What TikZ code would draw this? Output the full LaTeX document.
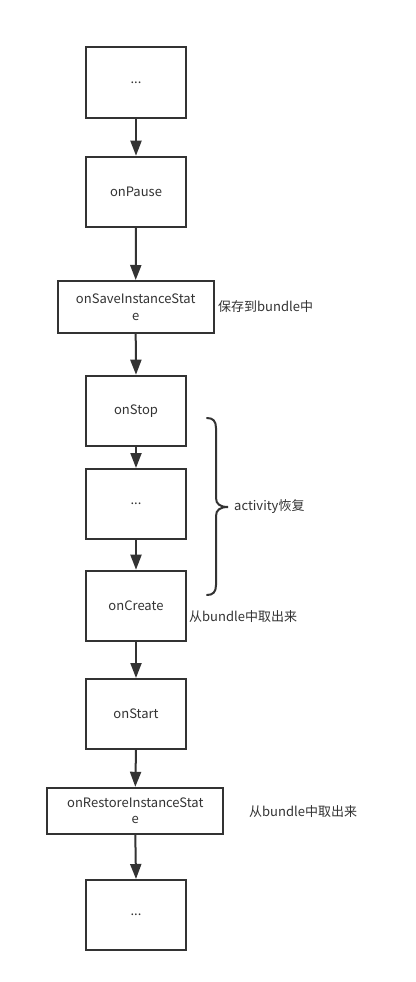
\documentclass[tikz,border=0pt]{standalone}
\usepackage{fontspec}
\setmainfont{Noto Sans CJK SC}
\usetikzlibrary{arrows.meta}
\definecolor{ink}{HTML}{333333}
\begin{document}
\begin{tikzpicture}[x=1pt,y=-1pt,
  stepbox/.style={draw=ink,line width=2pt,rectangle,inner sep=0pt,
    minimum width=100pt,minimum height=70pt,align=center,
    font=\fontsize{13}{16.5}\selectfont,text=ink},
  widebox/.style={stepbox,minimum height=52pt},
  flow/.style={draw=ink,line width=2pt,-{Triangle[length=15pt,width=11pt]}},
  note/.style={anchor=west,inner sep=0pt,font=\fontsize{13}{16}\selectfont,text=ink}]
\useasboundingbox (0,0) rectangle (415,982);
\fill[white] (0,0) rectangle (415,982);

% lifecycle steps
\node[stepbox] (s1) at (136,82.5) {...};
\node[stepbox] (s2) at (136,191.7) {onPause};
\node[widebox,minimum width=156pt] (s3) at (135.7,307) {onSaveInstanceStat\\e};
\node[stepbox] (s4) at (136,410.7) {onStop};
\node[stepbox] (s5) at (136,504) {...};
\node[stepbox] (s6) at (136,605.7) {onCreate};
\node[stepbox] (s7) at (136,714) {onStart};
\node[widebox,minimum width=176pt,minimum height=46pt] (s8) at (135.3,810.8) {onRestoreInstanceStat\\e};
\node[stepbox] (s9) at (136,915) {...};

% arrows between steps
\foreach \a/\b in {s1/s2,s2/s3,s3/s4,s4/s5,s5/s6,s6/s7,s7/s8,s8/s9}
  \draw[flow] (\a.south) -- (\b.north);

% side notes
\node[note] (n1) at (218,307) {保存到bundle中};
\node[note] (n2) at (189,616.5) {从bundle中取出来};
\node[note] (n3) at (249,812) {从bundle中取出来};

% brace spanning onStop .. onCreate
\coordinate (bt) at (207,418);
\coordinate (bm) at (228,507);
\coordinate (bb) at (207,595);
\draw[ink,line width=2pt,line cap=round]
  (bt) .. controls (213,418) and (216,421) .. (216,428)
  -- (216,498) .. controls (216,504) and (220,507) .. (bm)
  .. controls (220,507) and (216,510) .. (216,516)
  -- (216,585) .. controls (216,592) and (213,595) .. (bb);
\node[note] (n4) at (234,507) {activity恢复};
\end{tikzpicture}
\end{document}
